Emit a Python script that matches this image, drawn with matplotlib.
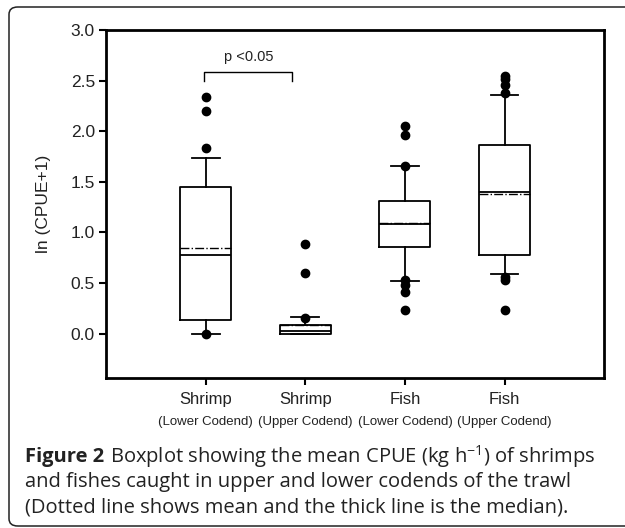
import matplotlib.pyplot as plt
from matplotlib.patches import FancyBboxPatch

# box statistics (ln(CPUE+1))
groups = ["Shrimp", "Shrimp", "Fish", "Fish"]
subgroups = ["(Lower Codend)", "(Upper Codend)", "(Lower Codend)", "(Upper Codend)"]
q1 = [0.13, 0.00, 0.86, 0.78]
med = [0.78, 0.03, 1.08, 1.40]
q3 = [1.45, 0.085, 1.31, 1.86]
whislo = [0.00, 0.00, 0.52, 0.585]
whishi = [1.74, 0.16, 1.66, 2.36]
means = [0.85, 0.08, 1.09, 1.38]
fliers = [
    [0.00, 1.83, 2.20, 2.34],
    [0.15, 0.60, 0.89],
    [0.23, 0.41, 0.48, 0.53, 1.66, 1.96, 2.05],
    [0.23, 0.53, 0.56, 2.38, 2.46, 2.52, 2.55],
]

fig = plt.figure(figsize=(6.25, 5.28), dpi=100)
ax = fig.add_axes([0.1696, 0.284, 0.797, 0.659])

stats = []
for i in range(4):
    stats.append(dict(q1=q1[i], med=med[i], q3=q3[i], whislo=whislo[i],
                      whishi=whishi[i], mean=means[i], fliers=fliers[i]))

ax.bxp(stats, positions=[1, 2, 3, 4], widths=0.51, showmeans=True, meanline=True,
       boxprops=dict(color="black", linewidth=1.3),
       medianprops=dict(color="black", linewidth=1.3),
       meanprops=dict(color="black", linestyle="-.", linewidth=1.0),
       whiskerprops=dict(color="black", linewidth=1.3),
       capprops=dict(color="black", linewidth=1.3),
       capwidths=0.28,
       flierprops=dict(marker="o", markerfacecolor="black", markeredgecolor="black",
                       markersize=6))

ax.set_xlim(0, 5)
ax.set_ylim(-0.44, 3.0)
ax.set_yticks([0.0, 0.5, 1.0, 1.5, 2.0, 2.5, 3.0])
ax.set_yticklabels(["0.0", "0.5", "1.0", "1.5", "2.0", "2.5", "3.0"],
                   fontsize=12.5, family="Liberation Sans", color="#222222")
ax.set_xticks([1, 2, 3, 4])
ax.set_xticklabels([""] * 4)
ax.tick_params(direction="out", length=5, width=1.5, pad=3)
for s in ax.spines.values():
    s.set_linewidth(2.0)

for i in range(4):
    ax.text(i + 1, -0.65, groups[i], ha="center", va="center", fontsize=12,
            family="Liberation Sans", color="#222222")
    ax.text(i + 1, -0.87, subgroups[i], ha="center", va="center", fontsize=9.5,
            family="Liberation Sans", color="#222222")

ax.set_ylabel("ln (CPUE+1)", fontsize=12.5, family="Liberation Sans", labelpad=14,
              color="#222222")

# significance bracket
ax.plot([0.98, 0.98, 1.87, 1.87], [2.50, 2.59, 2.59, 2.50], color="black", linewidth=1.0)
ax.text(1.43, 2.73, "p <0.05", ha="center", va="center", fontsize=10.5,
        family="Liberation Sans", color="#222222")

# outer frame
frame = FancyBboxPatch((9 / 625, 2 / 528), 660 / 625, 519 / 528,
                       boxstyle="round,pad=0,rounding_size=0.014",
                       transform=fig.transFigure, fill=False, edgecolor="#222222",
                       linewidth=1.1, clip_on=False)
fig.patches.append(frame)

cap_font = "Open Sans"
cap_col = "#222222"
fig.text(25 / 625, 1 - 457 / 528, "Figure 2", fontsize=14.5, fontweight="bold",
         family=cap_font, va="center", ha="left", color=cap_col)
fig.text(110 / 625, 1 - 457 / 528, r"Boxplot showing the mean CPUE (kg h$^{\mathregular{-1}}$) of shrimps",
         fontsize=14.5, family=cap_font, va="center", ha="left", color=cap_col)
fig.text(25 / 625, 1 - 482 / 528, "and fishes caught in upper and lower codends of the trawl",
         fontsize=14.5, family=cap_font, va="center", ha="left", color=cap_col)
fig.text(25 / 625, 1 - 508 / 528, "(Dotted line shows mean and the thick line is the median).",
         fontsize=14.5, family=cap_font, va="center", ha="left", color=cap_col)

fig.savefig("out.png", dpi=100)
